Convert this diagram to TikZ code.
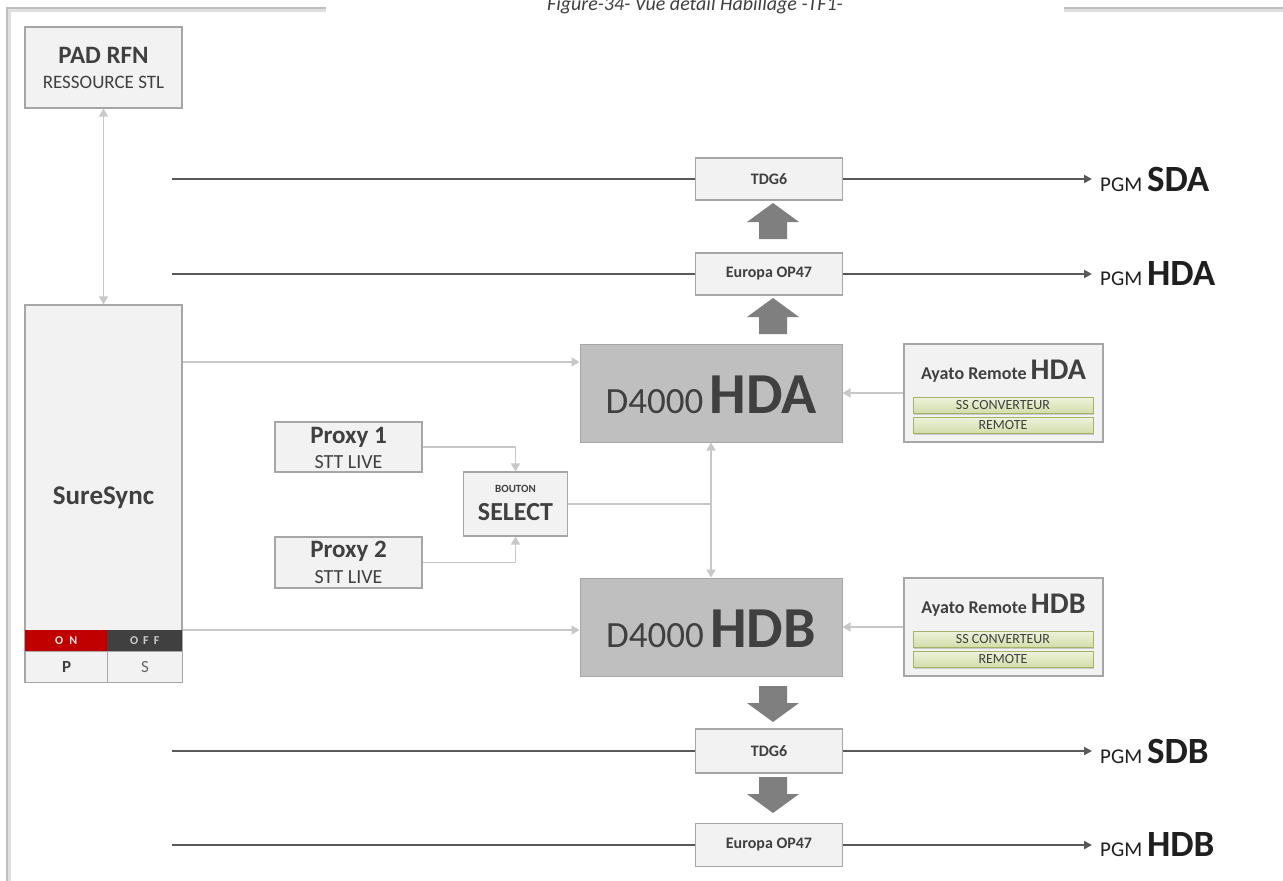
\documentclass[tikz,border=0pt]{standalone}
\usepackage{fontspec}
\setmainfont{Carlito}
\usetikzlibrary{arrows.meta,shadows,calc}
\definecolor{boxfill}{HTML}{F2F2F2}
\definecolor{boxline}{HTML}{A6A6A6}
\definecolor{darkfill}{HTML}{BFBFBF}
\definecolor{txt}{HTML}{404040}
\definecolor{mainline}{HTML}{595959}
\definecolor{connline}{HTML}{C8C8C8}
\definecolor{blockarr}{HTML}{7F7F7F}
\definecolor{onred}{HTML}{C00000}
\definecolor{offgray}{HTML}{404040}
\definecolor{bartop}{HTML}{EEF3DC}
\definecolor{barbot}{HTML}{D2DDAA}
\definecolor{barline}{HTML}{A4B26A}
\definecolor{frameline}{HTML}{BFBFBF}
\begin{document}
\begin{tikzpicture}[x=1pt,y=-1pt,
 lbox/.style={draw=boxline, fill=boxfill, line width=1.2pt, inner sep=0pt},
 dbox/.style={draw=boxline, fill=darkfill, line width=1pt, inner sep=0pt},
 lbl/.style={inner sep=0pt, text=txt},
 mainln/.style={draw=mainline, line width=2.4pt},
 mainarr/.style={mainln, -{Triangle[length=8pt,width=8pt]}},
 conn/.style={draw=connline, line width=1.5pt},
 connarr/.style={conn, -{Triangle[length=8pt,width=9pt]}},
 conn2/.style={conn, {Triangle[length=8pt,width=9pt]}-{Triangle[length=8pt,width=9pt]}},
 bar/.style={draw=barline, line width=0.8pt, top color=bartop, bottom color=barbot, minimum width=180pt, minimum height=16pt, inner sep=0pt, text=txt, font=\fontsize{14}{15}\selectfont, drop shadow={opacity=0.35, shadow xshift=1pt, shadow yshift=-2pt}},
 blk/.style={fill=blockarr, draw=none},
 pgm/.style={inner sep=0pt, inner xsep=0pt, text=black!88, anchor=west},
 bigup/.pic={\fill[blk] (0,0) -- (26,19) -- (14,19) -- (14,36) -- (-14,36) -- (-14,19) -- (-26,19) -- cycle;},
 bigdown/.pic={\fill[blk] (-14,0) -- (14,0) -- (14,17) -- (26,17) -- (0,36) -- (-26,17) -- (-14,17) -- cycle;},
]
\useasboundingbox (0,0) rectangle (1283,881);
\clip (0,0) rectangle (1283,881);
\fill[white] (0,0) rectangle (1283,881);
% frame
\draw[frameline!50, line width=5pt] (8,881) -- (8,9) -- (326,9);
\draw[frameline!50, line width=5pt] (1064,9) -- (1283,9);
\draw[frameline, line width=1.5pt] (7,881) -- (7,8) -- (326,8);
\draw[frameline, line width=1.5pt] (1064,8) -- (1283,8);
% title
\node[lbl, anchor=base, font=\fontsize{20}{24}\selectfont\itshape] (title) at (695,10) {Figure-34- Vue détail Habillage -TF1-};

% PAD RFN
\node[lbox, minimum width=157pt, minimum height=81pt] (pad) at (103.5,67.5) {};
\node[lbl, anchor=base, font=\fontsize{25}{28}\selectfont\bfseries] (padt) at (103.5,63) {PAD RFN};
\node[lbl, anchor=base, font=\fontsize{19}{22}\selectfont] (pads) at (103.5,88) {RESSOURCE STL};

% SureSync
\node[lbox, minimum width=157pt, minimum height=377pt] (sure) at (103.5,493.5) {};
\node[lbl, anchor=base, font=\fontsize{27}{30}\selectfont\bfseries] (suret) at (103.5,504) {SureSync};
\node[fill=onred, minimum width=82pt, minimum height=21pt, inner sep=0pt, anchor=north west, text=onred!12, font=\fontsize{12}{13}\selectfont\bfseries] (on) at (25,630) {O\hspace{6pt}N};
\node[fill=offgray, minimum width=75pt, minimum height=21pt, inner sep=0pt, anchor=north west, text=white!80!black, font=\fontsize{12}{13}\selectfont\bfseries] (off) at (107,630) {O\hspace{5pt}F\hspace{5pt}F};
\node[lbox, minimum width=82pt, minimum height=31pt, anchor=north west, text=txt, font=\fontsize{17}{18}\selectfont\bfseries] (pcell) at (25,651) {P};
\node[lbox, minimum width=75pt, minimum height=31pt, anchor=north west, text=txt!80, font=\fontsize{17}{18}\selectfont] (scell) at (107,651) {S};

% processing boxes
\node[lbox, minimum width=147pt, minimum height=42pt, text=txt, font=\fontsize{16}{18}\selectfont\bfseries] (tdga) at (769,179) {TDG6};
\node[lbox, minimum width=147pt, minimum height=42pt, text=txt, font=\fontsize{16}{18}\selectfont\bfseries] (opa) at (769,274) {Europa OP47};
\node[lbox, minimum width=147pt, minimum height=44pt, text=txt, font=\fontsize{16}{18}\selectfont\bfseries] (tdgb) at (769,751) {TDG6};
\node[lbox, minimum width=147pt, minimum height=43pt, text=txt, font=\fontsize{16}{18}\selectfont\bfseries] (opb) at (769,845) {Europa OP47};

% D4000
\node[dbox, minimum width=262pt, minimum height=98pt] (hda) at (711,393) {};
\node[lbl, anchor=base] (hdat) at (711,413) {\fontsize{37}{40}\selectfont D4000\,\fontsize{58}{60}\selectfont\bfseries HDA};
\node[dbox, minimum width=262pt, minimum height=98pt] (hdb) at (711,627) {};
\node[lbl, anchor=base] (hdbt) at (711,647) {\fontsize{37}{40}\selectfont D4000\,\fontsize{58}{60}\selectfont\bfseries HDB};

% Ayato
\node[lbox, minimum width=199pt, minimum height=98pt] (aya) at (1003.5,393) {};
\node[lbl, anchor=base] (ayat) at (1003.5,379) {\fontsize{18}{20}\selectfont\bfseries Ayato Remote \fontsize{30}{32}\selectfont HDA};
\node[bar] (ayas) at (1003,405) {SS CONVERTEUR};
\node[bar] (ayar) at (1003,425) {REMOTE};
\node[lbox, minimum width=199pt, minimum height=98pt] (ayb) at (1003.5,627) {};
\node[lbl, anchor=base] (aybt) at (1003.5,613) {\fontsize{18}{20}\selectfont\bfseries Ayato Remote \fontsize{30}{32}\selectfont HDB};
\node[bar] (aybs) at (1003,639) {SS CONVERTEUR};
\node[bar] (aybr) at (1003,659) {REMOTE};

% Proxies and select
\node[lbox, minimum width=147pt, minimum height=50pt] (p1) at (348.5,447) {};
\node[lbl, anchor=base, font=\fontsize{25}{28}\selectfont\bfseries] (p1t) at (348.5,443) {Proxy 1};
\node[lbl, anchor=base, font=\fontsize{20}{22}\selectfont] (p1s) at (348.5,468) {STT LIVE};
\node[lbox, minimum width=147pt, minimum height=51pt] (p2) at (348.5,562.5) {};
\node[lbl, anchor=base, font=\fontsize{25}{28}\selectfont\bfseries] (p2t) at (348.5,557) {Proxy 2};
\node[lbl, anchor=base, font=\fontsize{20}{22}\selectfont] (p2s) at (348.5,583) {STT LIVE};
\node[lbox, minimum width=104pt, minimum height=64pt] (sel) at (515.5,504) {};
\node[lbl, anchor=base, font=\fontsize{11}{12}\selectfont\bfseries] (selt) at (515.5,492) {BOUTON};
\node[lbl, anchor=base, font=\fontsize{26}{28}\selectfont\bfseries] (sels) at (515.5,520) {SELECT};

% PGM labels
\node[pgm] (pgmsda) at (1100,179) {\fontsize{21}{24}\selectfont PGM \fontsize{37}{40}\selectfont\bfseries SDA};
\node[pgm] (pgmhda) at (1100,274) {\fontsize{21}{24}\selectfont PGM \fontsize{37}{40}\selectfont\bfseries HDA};
\node[pgm] (pgmsdb) at (1100,751) {\fontsize{21}{24}\selectfont PGM \fontsize{37}{40}\selectfont\bfseries SDB};
\node[pgm] (pgmhdb) at (1100,845) {\fontsize{21}{24}\selectfont PGM \fontsize{37}{40}\selectfont\bfseries HDB};

% main lines
\coordinate (la) at (172,179);
\coordinate (lb) at (172,274);
\coordinate (lc) at (172,751);
\coordinate (ld) at (172,845);
\draw[mainln] (la) -- (tdga.west);
\draw[mainarr] (tdga.east) -- ([xshift=-8pt]tdga.east -| pgmsda.west);
\draw[mainln] (lb) -- (opa.west);
\draw[mainarr] (opa.east) -- ([xshift=-8pt]opa.east -| pgmhda.west);
\draw[mainln] (lc) -- (tdgb.west);
\draw[mainarr] (tdgb.east) -- ([xshift=-8pt]tdgb.east -| pgmsdb.west);
\draw[mainln] (ld) -- (opb.west);
\draw[mainarr] (opb.east) -- ([xshift=-8pt]opb.east -| pgmhdb.west);

% block arrows
\pic at (773,203) {bigup};
\pic at (773,298) {bigup};
\pic at (773,686) {bigdown};
\pic at (773,777) {bigdown};

% light connectors
\coordinate (y362) at (0,362);
\coordinate (y630) at (0,630);
\draw[conn2] (pad.south) -- (sure.north);
\draw[connarr] (sure.east |- y362) -- (hda.west |- y362);
\draw[connarr] (sure.east |- y630) -- (hdb.west |- y630);
\draw[connarr] (aya.west) -- (hda.east);
\draw[connarr] (ayb.west) -- (hdb.east);
\draw[connarr] (p1.east) -| (sel.north);
\draw[connarr] (p2.east) -| (sel.south);
\draw[conn] (sel.east) -- (sel.east -| hda.south);
\draw[conn2] (hda.south) -- (hdb.north);
\end{tikzpicture}
\end{document}
